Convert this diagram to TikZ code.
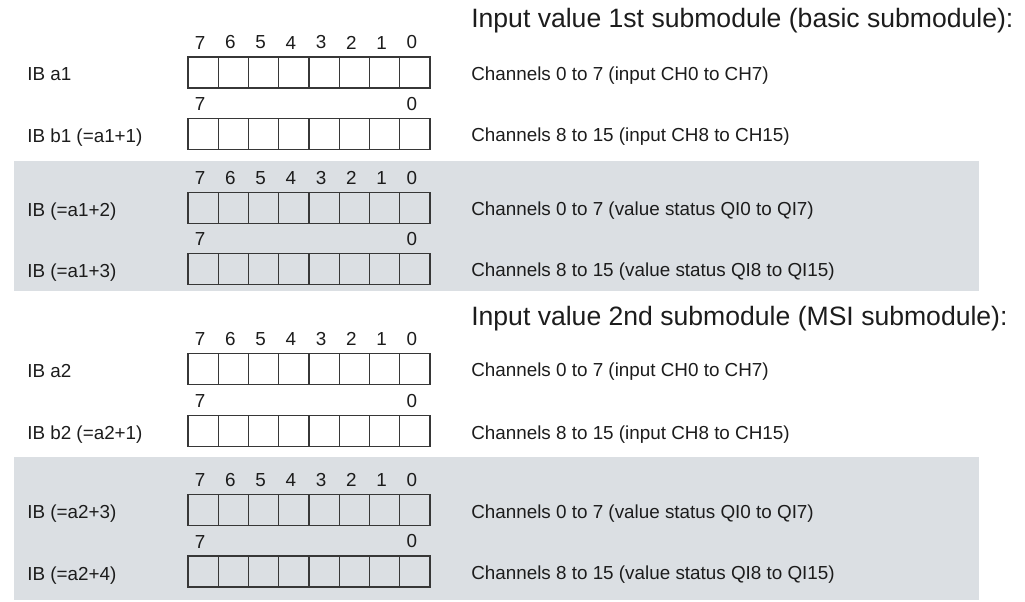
\documentclass[tikz,border=0pt]{standalone}
\usepackage{fontspec}
\setmainfont{Liberation Sans}
\usepackage{xcolor}
\usetikzlibrary{positioning}
\definecolor{bandgray}{RGB}{219,223,227}
\definecolor{ink}{RGB}{28,28,28}
\definecolor{boxline}{RGB}{55,55,55}

\begin{document}
\begin{tikzpicture}
[x=0.025cm, y=-0.025cm,
cell/.style={draw=boxline, line width=0.8pt, minimum width=0.75625cm, minimum height=0.775cm, inner sep=0pt, outer sep=0pt},
bitnum/.style={font=\fontsize{13.4}{16}\selectfont, text=ink, inner sep=0pt},
reglabel/.style={font=\fontsize{13.4}{16}\selectfont, text=ink, inner sep=0pt, anchor=base west},
chantext/.style={reglabel},
headtext/.style={font=\fontsize{18.9}{22}\selectfont, text=ink, inner sep=0pt, anchor=base west},
band/.style={fill=bandgray, draw=none},]
    \useasboundingbox (0,0) rectangle (1025,602);
    \fill[band] (14,161) rectangle (979,291);
    \fill[band] (14,457) rectangle (979,600);

    \node (head1) [headtext] at (471,28) {Input value 1st submodule (basic submodule):};
    \node (head2) [headtext] at (471,326) {Input value 2nd submodule (MSI submodule):};

    \foreach \r/\yc/\txt/\chan in {
        1/72.5/IB a1/Channels 0 to 7 (input CH0 to CH7),
        2/134/IB b1 (=a1+1)/Channels 8 to 15 (input CH8 to CH15),
        3/208/IB (=a1+2)/Channels 0 to 7 (value status QI0 to QI7),
        4/269/IB (=a1+3)/Channels 8 to 15 (value status QI8 to QI15),
        5/369/IB a2/Channels 0 to 7 (input CH0 to CH7),
        6/431/IB b2 (=a2+1)/Channels 8 to 15 (input CH8 to CH15),
        7/510/IB (=a2+3)/Channels 0 to 7 (value status QI0 to QI7),
        8/571.5/IB (=a2+4)/Channels 8 to 15 (value status QI8 to QI15)}{
        \foreach \i in {0,...,7}
            \node (reg\r-\i) [cell] at ({203.125+30.25*\i},\yc) {};
        \node (lab\r) [reglabel] at (27,{\yc+8.5}) {\txt};
        \node (chan\r) [chantext] at (471,{\yc+8}) {\chan};
    }

    \foreach \r in {1,3,5,7}
        \foreach \i/\bitno in {0/7,1/6,2/5,3/4,4/3,5/2,6/1,7/0}
            \node (bit\r-\i) [bitnum, above=0.19cm of reg\r-\i, xshift=-0.075cm] {\bitno};
    \foreach \r in {2,4,6,8}{
        \node (msb\r) [bitnum, above=0.19cm of reg\r-0, xshift=-0.075cm] {7};
        \node (lsb\r) [bitnum, above=0.19cm of reg\r-7, xshift=-0.075cm] {0};
    }
\end{tikzpicture}
\end{document}
